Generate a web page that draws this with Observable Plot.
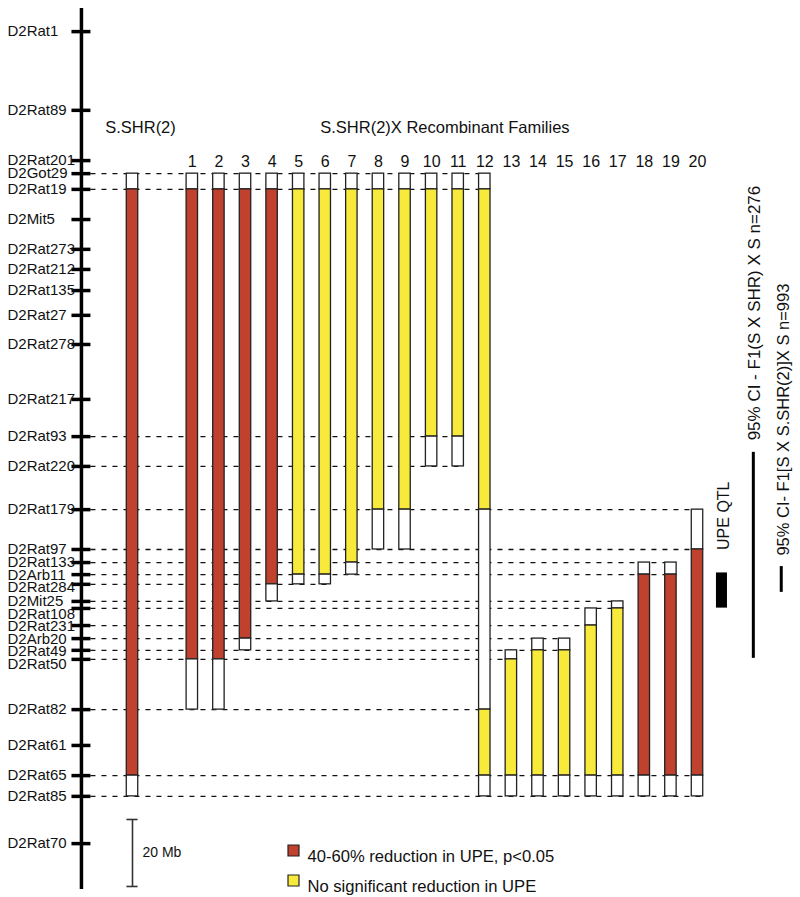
<!DOCTYPE html>
<html><head><meta charset="utf-8">
<script src="https://cdn.jsdelivr.net/npm/d3@7"></script>
<script src="https://cdn.jsdelivr.net/npm/@observablehq/plot@0.6"></script>
<style>html,body{margin:0;padding:0;background:#fff}</style>
</head><body><div id="chart"></div>
<script>
// ---- Data ----
const markerNames = ["D2Rat1","D2Rat89","D2Rat201","D2Got29","D2Rat19","D2Mit5","D2Rat273","D2Rat212","D2Rat135","D2Rat27","D2Rat278","D2Rat217","D2Rat93","D2Rat220","D2Rat179","D2Rat97","D2Rat133","D2Arb11","D2Rat284","D2Mit25","D2Rat108","D2Rat231","D2Arb20","D2Rat49","D2Rat50","D2Rat82","D2Rat61","D2Rat65","D2Rat85","D2Rat70"];
const markerMb = [6.9,30.4,45.4,49.3,54.0,63.0,71.9,77.9,84.2,91.6,100.3,116.7,127.8,136.7,149.6,161.5,165.4,169.0,171.9,177.0,179.1,184.2,188.1,191.6,194.3,209.3,220.0,229.0,235.2,249.3];
const chromosomeMb = 263;

const families = ["S.SHR(2)","1","2","3","4","5","6","7","8","9","10","11","12","13","14","15","16","17","18","19","20"];
// segment boundaries (markers) and state of each segment: F = flanking, R = reduction, N = no reduction
const familyBounds = [
  ["D2Got29","D2Rat19","D2Rat65","D2Rat85"],
  ["D2Got29","D2Rat19","D2Rat50","D2Rat82"],
  ["D2Got29","D2Rat19","D2Rat50","D2Rat82"],
  ["D2Got29","D2Rat19","D2Arb20","D2Rat49"],
  ["D2Got29","D2Rat19","D2Rat284","D2Mit25"],
  ["D2Got29","D2Rat19","D2Arb11","D2Rat284"],
  ["D2Got29","D2Rat19","D2Arb11","D2Rat284"],
  ["D2Got29","D2Rat19","D2Rat133","D2Arb11"],
  ["D2Got29","D2Rat19","D2Rat179","D2Rat97"],
  ["D2Got29","D2Rat19","D2Rat179","D2Rat97"],
  ["D2Got29","D2Rat19","D2Rat93","D2Rat220"],
  ["D2Got29","D2Rat19","D2Rat93","D2Rat220"],
  ["D2Got29","D2Rat19","D2Rat179","D2Rat82","D2Rat65","D2Rat85"],
  ["D2Rat49","D2Rat50","D2Rat65","D2Rat85"],
  ["D2Arb20","D2Rat49","D2Rat65","D2Rat85"],
  ["D2Arb20","D2Rat49","D2Rat65","D2Rat85"],
  ["D2Rat108","D2Rat231","D2Rat65","D2Rat85"],
  ["D2Mit25","D2Rat108","D2Rat65","D2Rat85"],
  ["D2Rat133","D2Arb11","D2Rat65","D2Rat85"],
  ["D2Rat133","D2Arb11","D2Rat65","D2Rat85"],
  ["D2Rat179","D2Rat97","D2Rat65","D2Rat85"]
];
const familyStates = [
  ["F","R","F"],["F","R","F"],["F","R","F"],["F","R","F"],["F","R","F"],
  ["F","N","F"],["F","N","F"],["F","N","F"],["F","N","F"],["F","N","F"],
  ["F","N","F"],["F","N","F"],["F","N","F","N","F"],
  ["F","N","F"],["F","N","F"],["F","N","F"],["F","N","F"],["F","N","F"],
  ["F","R","F"],["F","R","F"],["F","R","F"]
];
const legendStates = ["R","N"];
const legendLabels = ["40-60% reduction in UPE, p<0.05","No significant reduction in UPE"];
const qtlMb = [168.5, 179.0];
const ci1Mb = [132.5, 194.0];
const ci2Mb = [166.6, 174.3];
const ci1Label = "95% CI - F1(S X SHR) X S n=276";
const ci2Label = "95% CI- F1[S X S.SHR(2)]X S n=993";
const scaleBarMb = 20;

// ---- Layout ----
const RED = "#bf412e", YELLOW = "#f8ea3a", EDGE = "#222";
const fill = {F: "#fff", R: RED, N: YELLOW};
const font = "'Liberation Sans', Arial, Helvetica, sans-serif";
const pos = i => i === 0 ? -1.25 : i;
const axisX = -3.17, tickHalf = 0.357, barHalf = 0.215;
const mb = Object.fromEntries(markerNames.map((n, i) => [n, markerMb[i]]));

const segments = [];
const lastPos = {};
familyBounds.forEach((bounds, i) => {
  for (let k = 0; k < bounds.length - 1; k++) {
    segments.push({pos: pos(i), y1: mb[bounds[k]], y2: mb[bounds[k + 1]], state: familyStates[i][k]});
  }
  bounds.forEach(b => { lastPos[b] = Math.max(lastPos[b] ?? -Infinity, pos(i)); });
});
const dashes = Object.keys(lastPos).map(b => ({y: mb[b], x2: lastPos[b] + barHalf}));

// label dodge (minimum spacing ~12.5px)
const gapMb = 12.5 / (881 / chromosomeMb);
const markers = [];
markerNames.forEach((n, i) => {
  const prev = markers[i - 1];
  const ly = prev ? Math.max(markerMb[i], prev.ly + gapMb) : markerMb[i];
  markers.push({name: n, y: markerMb[i], ly});
});

const famData = families.map((f, i) => ({name: f, pos: pos(i)})).slice(1);

const legendMarks = legendStates.flatMap((s, i) => [
  Plot.dot([s], {frameAnchor: "top-left", dx: 293, dy: 850 + 30 * i, symbol: "square", r: 6.2,
    fill: fill[s], stroke: EDGE, strokeWidth: 1.2}),
  Plot.text([legendLabels[i]], {frameAnchor: "top-left", dx: 307, dy: 850 + 30 * i, text: d => d,
    textAnchor: "start", fontSize: 16.6, fill: "#111"})
]);

const chart = Plot.plot({
  width: 800, height: 897,
  marginTop: 0, marginRight: 0, marginBottom: 0, marginLeft: 0,
  x: {type: "linear", domain: [-1.25, 20], range: [132, 697], axis: null},
  y: {type: "linear", domain: [0, chromosomeMb], range: [8, 889], axis: null},
  style: {fontFamily: font, background: "#fff", color: "#111", overflow: "visible"},
  marks: [
    // dashed marker lines
    Plot.ruleY(dashes, {y: "y", x1: axisX + tickHalf, x2: "x2", stroke: "#111", strokeWidth: 1.3, strokeDasharray: "5,6"}),
    // chromosome segments
    Plot.rect(segments, {x1: d => d.pos - barHalf, x2: d => d.pos + barHalf, y1: "y1", y2: "y2",
      fill: d => fill[d.state], stroke: EDGE, strokeWidth: 1.3}),
    // axis
    Plot.ruleX([axisX], {y1: 0, y2: chromosomeMb, stroke: "#000", strokeWidth: 3.5}),
    Plot.ruleY(markers, {y: "y", x1: axisX - tickHalf, x2: axisX + tickHalf, stroke: "#000", strokeWidth: 3.5}),
    Plot.text(markers, {x: axisX, y: "ly", text: "name", dx: -74, textAnchor: "start", fontSize: 15, fill: "#111"}),
    // headers
    Plot.text(famData, {x: "pos", text: "name", frameAnchor: "top", dy: 155, fontSize: 16, fill: "#111"}),
    Plot.text([families[0]], {x: pos(0), frameAnchor: "top", dy: 121, dx: 8, text: d => d, fontSize: 16.5, fill: "#111"}),
    Plot.text(["S.SHR(2)X Recombinant Families"], {x: 10.5, frameAnchor: "top", dy: 121, text: d => d, fontSize: 16.5, fill: "#111"}),
    // QTL and confidence intervals
    Plot.rect([qtlMb], {x1: 20.92 - 0.207, x2: 20.92 + 0.207, y1: d => d[0], y2: d => d[1], fill: "#000"}),
    Plot.text([qtlMb], {x: 20.98, y: d => d[0], dy: -23, rotate: -90, textAnchor: "start", text: () => "UPE QTL", fontSize: 16, fill: "#111"}),
    Plot.ruleX([ci1Mb], {x: () => 22.1, y1: d => d[0], y2: d => d[1], stroke: "#000", strokeWidth: 3}),
    Plot.text([ci1Mb], {x: 22.1, y: d => d[0], dy: -12, dx: 1, rotate: -90, textAnchor: "start", text: () => ci1Label, fontSize: 17, fill: "#111"}),
    Plot.ruleX([ci2Mb], {x: () => 23.15, y1: d => d[0], y2: d => d[1], stroke: "#000", strokeWidth: 3}),
    Plot.text([ci2Mb], {x: 23.15, y: d => d[0], dy: -11, dx: 2, rotate: -90, textAnchor: "start", text: () => ci2Label, fontSize: 16.5, fill: "#111"}),
    // scale bar
    Plot.ruleX([pos(0)], {y1: 242.1, y2: 242.1 + scaleBarMb, stroke: "#333", strokeWidth: 1.6}),
    Plot.ruleY([242.1, 242.1 + scaleBarMb], {x1: pos(0) - 0.21, x2: pos(0) + 0.21, stroke: "#333", strokeWidth: 1.6}),
    Plot.text([scaleBarMb + " Mb"], {x: pos(0), y: 242.1 + scaleBarMb / 2, dx: 10, textAnchor: "start", text: d => d, fontSize: 14, fill: "#111"}),
    // legend
    ...legendMarks
  ]
});

document.getElementById("chart").append(chart);
</script>
</body></html>
